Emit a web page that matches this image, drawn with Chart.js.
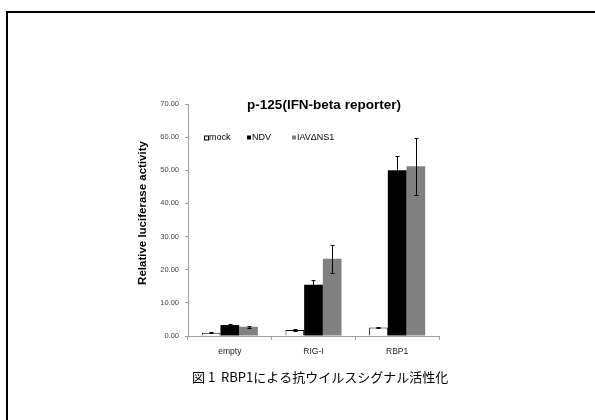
<!DOCTYPE html>
<html>
<head>
<meta charset="utf-8">
<script src="https://cdn.jsdelivr.net/npm/chart.js@4.4.0/dist/chart.umd.min.js"></script>
<style>
    html, body { margin: 0; padding: 0; background: #fff; }
    #wrap { position: relative; width: 595px; height: 420px; }
</style>
</head>
<body>
<div id="wrap"><canvas id="chart" width="595" height="420"></canvas></div>
<script>
    // Data
    var categories = ["empty", "RIG-I", "RBP1"];
    var seriesNames = ["mock", "NDV", "IAV\u0394NS1"];
    var mockValues = [1.0, 1.8, 2.6];
    var ndvValues = [3.3, 15.5, 50.0];
    var iavValues = [2.8, 23.3, 51.2];
    var mockErrors = [0.2, 0.2, 0.2];
    var ndvErrors = [0.4, 1.3, 4.3];
    var iavErrors = [0.3, 4.3, 8.6];
    var yTicks = [0, 10, 20, 30, 40, 50, 60, 70];
    var chartTitle = "p-125(IFN-beta reporter)";
    var yTitle = "Relative luciferase activity";
    var caption = "図 1  RBP1による抗ウイルスシグナル活性化";

    var latin = "'Liberation Sans', Arial, sans-serif";

    // Error bars on top of every bar
    var errorBars = {
        id: 'errorBars',
        afterDatasetsDraw: function (chart) {
            var ctx = chart.ctx;
            var y = chart.scales.y;
            chart.data.datasets.forEach(function (ds, i) {
                var meta = chart.getDatasetMeta(i);
                meta.data.forEach(function (bar, j) {
                    var v = ds.data[j], e = ds.errors[j];
                    var top = Math.round(y.getPixelForValue(v + e)) + 0.5;
                    var bot = Math.round(y.getPixelForValue(v - e)) + 0.5;
                    var x = Math.round(bar.x) + 0.5;
                    ctx.save();
                    ctx.strokeStyle = '#000';
                    ctx.lineWidth = 1;
                    ctx.beginPath();
                    ctx.moveTo(x, top); ctx.lineTo(x, bot);
                    ctx.moveTo(x - 2, top); ctx.lineTo(x + 2, top);
                    ctx.moveTo(x - 2, bot); ctx.lineTo(x + 2, bot);
                    ctx.stroke();
                    ctx.restore();
                });
            });
        }
    };

    // Frame, title, legend, y title and caption
    var decor = {
        id: 'decor',
        beforeDraw: function (chart) {
            var ctx = chart.ctx;
            ctx.save();
            ctx.fillStyle = '#fff';
            ctx.fillRect(0, 0, chart.width, chart.height);
            ctx.fillStyle = '#000';
            ctx.fillRect(6, 11, chart.width - 6, 2);
            ctx.fillRect(6, 11, 2, chart.height - 11);
            ctx.restore();
        },
        afterDraw: function (chart) {
            var ctx = chart.ctx;
            var area = chart.chartArea;
            ctx.save();
            ctx.fillStyle = '#000';
            ctx.textBaseline = 'middle';
            ctx.textAlign = 'center';
            ctx.font = "bold 13.5px " + latin;
            ctx.fillText(chartTitle, 324, area.top + 1);

            // axis title, a bit above the middle as in the figure
            ctx.save();
            ctx.translate(143, 213);
            ctx.rotate(-Math.PI / 2);
            ctx.font = "bold 11.5px " + latin;
            ctx.fillText(yTitle, 0, 0);
            ctx.restore();

            // legend
            ctx.font = "9px " + latin;
            ctx.textAlign = 'left';
            var xs = [204, 247, 292];
            var ly = 137.5;
            chart.data.datasets.forEach(function (ds, i) {
                ctx.fillStyle = ds.backgroundColor;
                ctx.fillRect(xs[i], ly - 2, 4, 4);
                if (i === 0) {
                    ctx.strokeStyle = '#000';
                    ctx.lineWidth = 1;
                    ctx.strokeRect(xs[i] + 0.5, ly - 1.5, 4, 4);
                }
                ctx.fillStyle = '#000';
                ctx.fillText(ds.label, xs[i] + 5, ly);
            });

            ctx.font = "13px 'Noto Sans CJK JP', sans-serif";
            ctx.fillText(caption, 192, 377);
            ctx.restore();
        }
    };

    var ctx = document.getElementById('chart').getContext('2d');
    var myChart = new Chart(ctx, {
        type: 'bar',
        data: {
            labels: categories,
            datasets: [{
                label: seriesNames[0],
                data: mockValues,
                errors: mockErrors,
                backgroundColor: '#ffffff',
                borderColor: '#000000',
                borderWidth: 1,
                borderSkipped: 'bottom'
            }, {
                label: seriesNames[1],
                data: ndvValues,
                errors: ndvErrors,
                backgroundColor: '#000000',
                borderWidth: 0
            }, {
                label: seriesNames[2],
                data: iavValues,
                errors: iavErrors,
                backgroundColor: '#808080',
                borderWidth: 0
            }]
        },
        options: {
            responsive: false,
            animation: false,
            layout: { padding: { left: 137, right: 156, top: 104, bottom: 64 } },
            datasets: { bar: { categoryPercentage: 0.67, barPercentage: 1.0 } },
            plugins: {
                legend: { display: false },
                title: { display: false },
                tooltip: { enabled: false }
            },
            scales: {
                x: {
                    afterFit: function (scale) { scale.height = 20; },
                    grid: {
                        offset: true,
                        drawOnChartArea: false,
                        drawTicks: true,
                        tickLength: 4,
                        color: '#a0a0a0'
                    },
                    border: { color: '#a0a0a0' },
                    ticks: {
                        color: '#222',
                        padding: 7,
                        font: { family: latin, size: 8.5 }
                    }
                },
                y: {
                    min: 0,
                    max: 70,
                    afterFit: function (scale) { scale.width = 51; },
                    afterBuildTicks: function (scale) {
                        scale.ticks = yTicks.map(function (v) { return { value: v }; });
                    },
                    grid: {
                        drawOnChartArea: false,
                        drawTicks: true,
                        tickLength: 3,
                        color: '#a0a0a0'
                    },
                    border: { color: '#a0a0a0' },
                    ticks: {
                        color: '#444',
                        padding: 6,
                        font: { family: latin, size: 7.5 },
                        callback: function (v) { return Number(v).toFixed(2); }
                    },
                    title: { display: false }
                }
            }
        },
        plugins: [errorBars, decor]
    });
</script>
</body>
</html>
